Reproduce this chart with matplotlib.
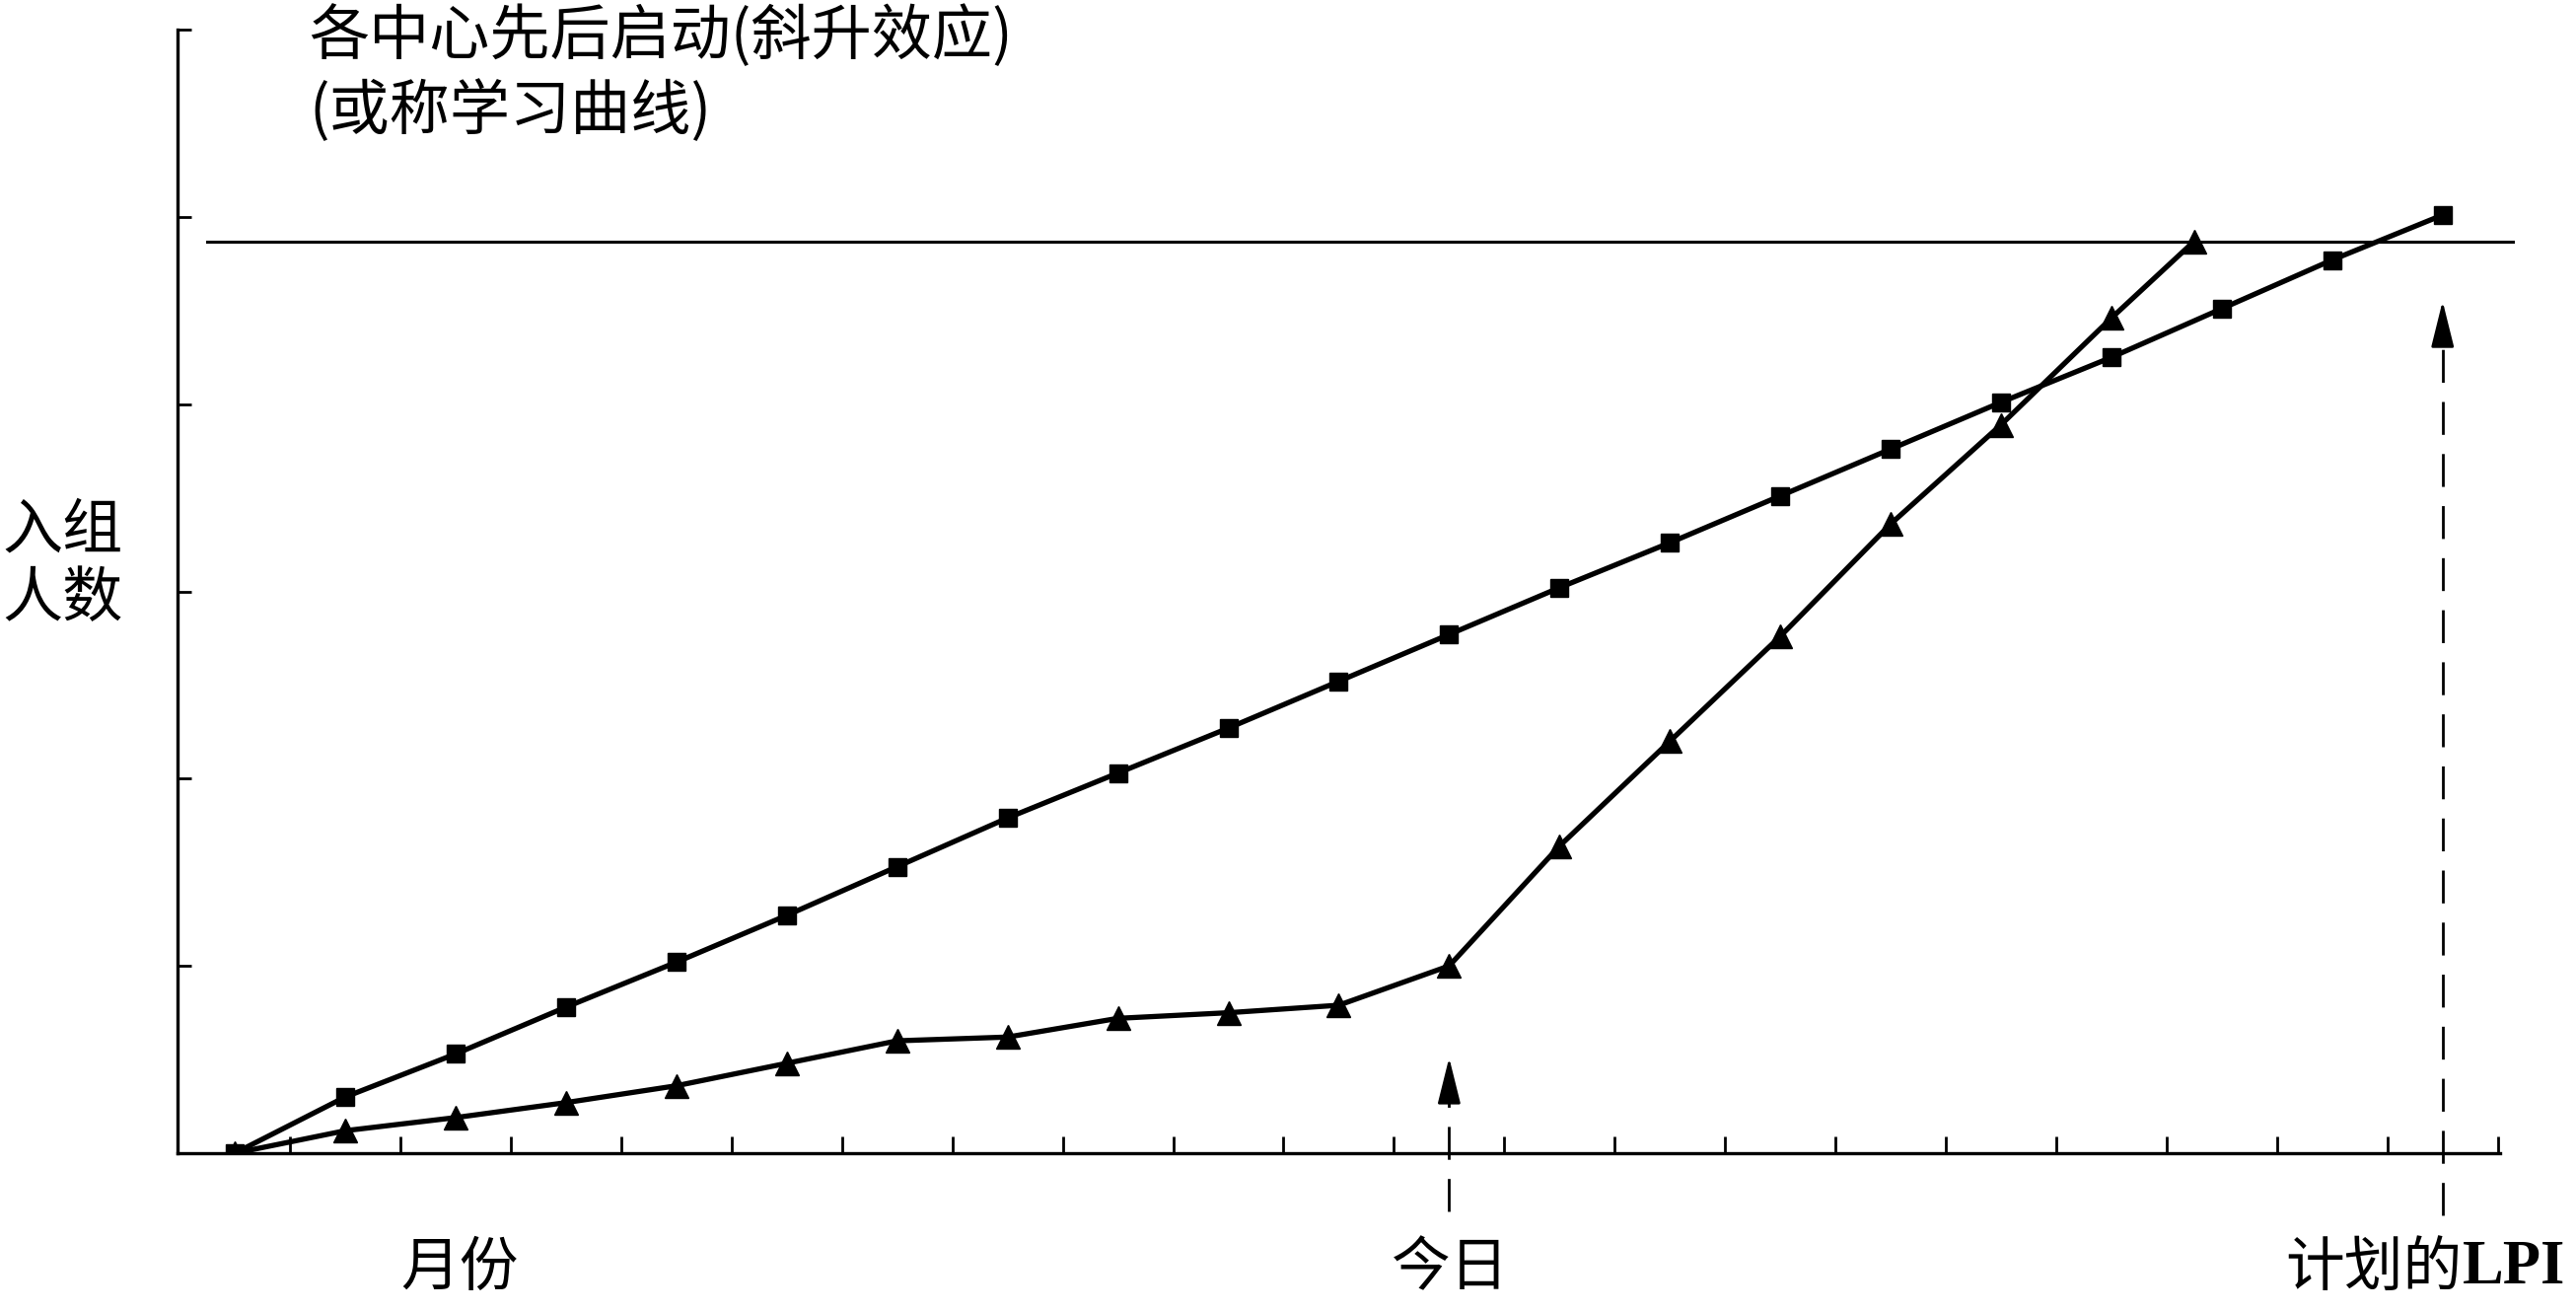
import numpy as np
import matplotlib
matplotlib.use("Agg")
import matplotlib.pyplot as plt

plt.rcParams['font.family'] = ['Noto Sans CJK SC', 'DejaVu Sans']

# ── Datos ────────────────────────────────────────────────────────────────
months = list(range(21))
planned = [0, 0.30, 0.53, 0.78, 1.02, 1.27, 1.53, 1.79, 2.03, 2.27, 2.52,
           2.77, 3.02, 3.26, 3.51, 3.76, 4.01, 4.25, 4.51, 4.77, 5.01]
actual_x = list(range(18)) + [17.75]
actual = [0, 0.12, 0.19, 0.27, 0.36, 0.48, 0.60, 0.62, 0.72, 0.75, 0.79,
          1.00, 1.64, 2.20, 2.76, 3.36, 3.89, 4.46, 4.87]
target = 4.87
today_x = 11
lpi_x = 20

title = "各中心先后启动(斜升效应)\n(或称学习曲线)"
ylabel = "入组\n人数"
xlabels = ["月份", "今日", "计划的"]

fig = plt.figure(figsize=(26.12, 13.29), dpi=100)
ax = fig.add_axes([0.0689, 0.1204, 0.9016, 0.857])

ax.plot(months, planned, color='k', lw=3.8, marker='s', ms=13, zorder=3)
ax.plot(actual_x, actual, color='k', lw=3.8, marker='^', ms=17.5, zorder=4)

# línea objetivo
ax.plot([-0.25, 20.64], [target, target], color='k', lw=2.2, clip_on=False)

# flechas punteadas
for x, tail, base, tip in [(today_x, -0.31, 0.29, 0.51), (lpi_x, -0.33, 4.32, 4.55)]:
    ax.plot([x, x], [tail, base], color='k', lw=2.0, dashes=(12, 7), clip_on=False)
    ax.annotate('', xy=(x, tip), xytext=(x, base),
                arrowprops=dict(arrowstyle='-|>,head_length=1.45,head_width=0.36',
                                mutation_scale=20, color='k', lw=2.0,
                                shrinkA=0, shrinkB=0))

ax.set_xlim(-0.52, 20.52)
ax.set_ylim(0, 6)
ax.set_xticks(np.arange(0.5, 21, 1))
ax.set_yticks(np.arange(0, 7, 1))
ax.tick_params(direction='in', labelbottom=False, labelleft=False, width=2)
ax.tick_params(axis='x', length=12)
ax.tick_params(axis='y', length=10)
for s in ['top', 'right']:
    ax.spines[s].set_visible(False)
for s in ['left', 'bottom']:
    ax.spines[s].set_linewidth(2.4)

# ── Textos ───────────────────────────────────────────────────────────────
fig.text(0.12, 0.9436, title, fontsize=44, va='center', ha='left', linespacing=1.25)
fig.text(0.001, 0.569, ylabel, fontsize=44, va='center', ha='left', linespacing=1.15)
fig.text(466 / 2612, 0.032, xlabels[0], fontsize=43, va='center', ha='center')
fig.text(1471 / 2612, 0.032, xlabels[1], fontsize=43, va='center', ha='center')
fig.text(2497 / 2612, 0.032, xlabels[2], fontsize=43, va='center', ha='right')
fig.text(2497 / 2612, 0.032, "LPI", fontsize=45, va='center', ha='left',
         family='Liberation Serif', weight='bold')

fig.savefig("out.png", dpi=100)
